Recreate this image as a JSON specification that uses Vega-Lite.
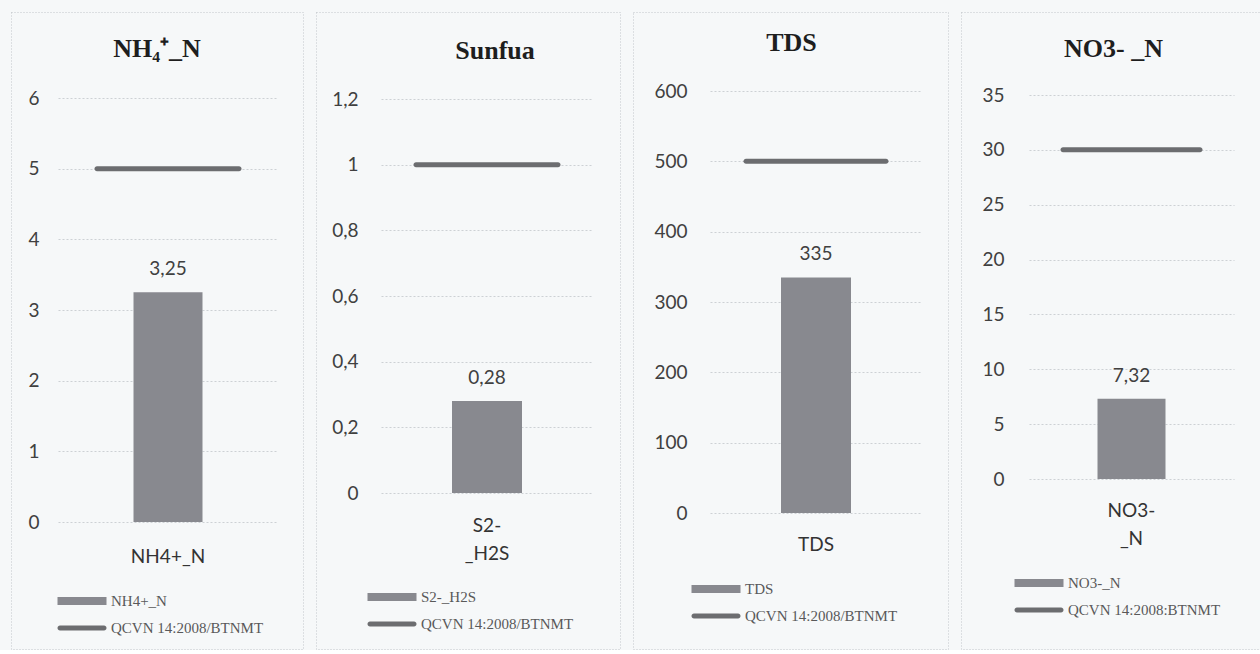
{
  "$schema": "https://vega.github.io/schema/vega-lite/v6.json",
  "background": "#f6f8f9",
  "padding": {"left": 10, "top": 11, "right": 0, "bottom": 0},
  "config": {
    "locale": {"number": {"decimal": ",", "thousands": ".", "grouping": [3], "currency": ["", " ₫"]}},
    "view": {"stroke": "#c3c7ca", "strokeDash": [1, 2], "strokeWidth": 1},
    "concat": {"spacing": 11},
    "title": {"font": "Liberation Serif", "fontSize": 26, "fontWeight": "bold", "color": "#1e1e1e", "anchor": "middle", "frame": "group"},
    "axisY": {"domain": false, "ticks": false, "labelPadding": 0, "grid": true, "gridColor": "#cdd1d4", "gridDash": [2, 2], "gridWidth": 1, "labelFont": "Lato", "labelFontSize": 19, "labelColor": "#404040", "title": null, "format": "~r"},
    "axisX": {"domain": false, "ticks": false, "grid": false, "labelAngle": 0, "labelFont": "Lato", "labelFontSize": 19, "labelColor": "#333333", "labelLineHeight": 28, "title": null},
    "legend": {"padding": 0, "title": null, "labelFont": "Liberation Serif", "labelFontSize": 15, "labelColor": "#595959", "labelOffset": 19, "rowPadding": 9, "symbolSize": 384, "symbolType": "M-2.5,-0.4H2.5V0.4H-2.5Z", "symbolStrokeWidth": 0},
    "text": {"font": "Lato", "fontSize": 19, "color": "#404040"}
  },
  "datasets": {
    "chi_tieu": [
      {"chart": "NH4", "param": "NH4+_N", "value": 3.25, "limit": 5, "standard": "QCVN 14:2008/BTNMT"},
      {"chart": "S", "param": "S2-_H2S", "value": 0.28, "limit": 1, "standard": "QCVN 14:2008/BTNMT"},
      {"chart": "TDS", "param": "TDS", "value": 335, "limit": 500, "standard": "QCVN 14:2008/BTNMT"},
      {"chart": "NO3", "param": "NO3-_N", "value": 7.32, "limit": 30, "standard": "QCVN 14:2008:BTNMT"}
    ]
  },
  "resolve": {"scale": {"x": "independent", "y": "independent", "color": "independent"}, "legend": {"color": "independent"}},
  "hconcat": [
    {
      "width": 292, "height": 637,
      "data": {"name": "chi_tieu"},
      "transform": [{"filter": "datum.chart == 'NH4'"}],
      "title": {"text": "NH₄⁺_N", "offset": -50},
      "encoding": {
        "x": {"field": "param", "type": "nominal", "scale": {"range": [47, 267]}, "axis": {"offset": -127, "labelPadding": 25}}
      },
      "layer": [
        {
          "mark": {"type": "bar", "size": 69},
          "encoding": {
            "y": {"field": "value", "type": "quantitative", "scale": {"domain": [0, 6], "range": [510, 86], "nice": false}, "axis": {"values": [0, 1, 2, 3, 4, 5, 6], "offset": -28}},
            "color": {"field": "param", "type": "nominal", "scale": {"domain": ["NH4+_N", "QCVN 14:2008/BTNMT"], "range": ["#88898f", "#6c6d70"]},
              "legend": {"orient": "none", "legendX": 61, "legendY": 579,
                "encode": {"symbols": {"update": {
                  "shape": {"signal": "indexof(datum.value, 'QCVN') === 0 ? 'M-2.25,-0.25H2.25A0.25,0.25 0 0 1 2.25,0.25H-2.25A0.25,0.25 0 0 1 -2.25,-0.25Z' : 'M-2.5,-0.4H2.5V0.4H-2.5Z'"},
                  "fill": {"signal": "indexof(datum.value, 'QCVN') === 0 ? '#6c6d70' : '#88898f'"},
                  "strokeWidth": {"value": 0}, "opacity": {"value": 1}}}}}}
          }
        },
        {
          "mark": {"type": "tick", "size": 147, "thickness": 5, "cornerRadius": 2.5, "orient": "horizontal", "opacity": 1},
          "encoding": {
            "y": {"field": "limit", "type": "quantitative"},
            "color": {"field": "standard", "type": "nominal"}
          }
        },
        {
          "mark": {"type": "text", "baseline": "alphabetic", "dy": -17},
          "encoding": {
            "y": {"field": "value", "type": "quantitative"},
            "text": {"field": "value", "type": "quantitative", "format": "~r"}
          }
        }
      ]
    },
    {
      "width": 304, "height": 637,
      "data": {"name": "chi_tieu"},
      "transform": [{"filter": "datum.chart == 'S'"}],
      "title": {"text": "Sunfua", "offset": -52, "dx": 27},
      "encoding": {
        "x": {"field": "param", "type": "nominal", "scale": {"range": [65, 277]}, "axis": {"offset": -156, "labelPadding": 23, "labelExpr": "['S2-', '_H2S']"}}
      },
      "layer": [
        {
          "mark": {"type": "bar", "size": 70},
          "encoding": {
            "y": {"field": "value", "type": "quantitative", "scale": {"domain": [0, 1.2], "range": [481, 87], "nice": false}, "axis": {"values": [0, 0.2, 0.4, 0.6, 0.8, 1, 1.2], "offset": -42}},
            "color": {"field": "param", "type": "nominal", "scale": {"domain": ["S2-_H2S", "QCVN 14:2008/BTNMT"], "range": ["#88898f", "#6c6d70"]},
              "legend": {"orient": "none", "legendX": 66, "legendY": 575,
                "encode": {"symbols": {"update": {
                  "shape": {"signal": "indexof(datum.value, 'QCVN') === 0 ? 'M-2.25,-0.25H2.25A0.25,0.25 0 0 1 2.25,0.25H-2.25A0.25,0.25 0 0 1 -2.25,-0.25Z' : 'M-2.5,-0.4H2.5V0.4H-2.5Z'"},
                  "fill": {"signal": "indexof(datum.value, 'QCVN') === 0 ? '#6c6d70' : '#88898f'"},
                  "strokeWidth": {"value": 0}, "opacity": {"value": 1}}}}}}
          }
        },
        {
          "mark": {"type": "tick", "size": 147, "thickness": 5, "cornerRadius": 2.5, "orient": "horizontal", "opacity": 1},
          "encoding": {
            "y": {"field": "limit", "type": "quantitative"},
            "color": {"field": "standard", "type": "nominal"}
          }
        },
        {
          "mark": {"type": "text", "baseline": "alphabetic", "dy": -17},
          "encoding": {
            "y": {"field": "value", "type": "quantitative"},
            "text": {"field": "value", "type": "quantitative", "format": "~r"}
          }
        }
      ]
    },
    {
      "width": 315, "height": 637,
      "data": {"name": "chi_tieu"},
      "transform": [{"filter": "datum.chart == 'TDS'"}],
      "title": {"text": "TDS", "offset": -44, "dx": 1},
      "encoding": {
        "x": {"field": "param", "type": "nominal", "scale": {"range": [77, 289]}, "axis": {"offset": -136, "labelPadding": 22}}
      },
      "layer": [
        {
          "mark": {"type": "bar", "size": 70},
          "encoding": {
            "y": {"field": "value", "type": "quantitative", "scale": {"domain": [0, 600], "range": [501, 79], "nice": false}, "axis": {"values": [0, 100, 200, 300, 400, 500, 600], "offset": -54}},
            "color": {"field": "param", "type": "nominal", "scale": {"domain": ["TDS", "QCVN 14:2008/BTNMT"], "range": ["#88898f", "#6c6d70"]},
              "legend": {"orient": "none", "legendX": 73, "legendY": 567,
                "encode": {"symbols": {"update": {
                  "shape": {"signal": "indexof(datum.value, 'QCVN') === 0 ? 'M-2.25,-0.25H2.25A0.25,0.25 0 0 1 2.25,0.25H-2.25A0.25,0.25 0 0 1 -2.25,-0.25Z' : 'M-2.5,-0.4H2.5V0.4H-2.5Z'"},
                  "fill": {"signal": "indexof(datum.value, 'QCVN') === 0 ? '#6c6d70' : '#88898f'"},
                  "strokeWidth": {"value": 0}, "opacity": {"value": 1}}}}}}
          }
        },
        {
          "mark": {"type": "tick", "size": 145, "thickness": 5, "cornerRadius": 2.5, "orient": "horizontal", "opacity": 1},
          "encoding": {
            "y": {"field": "limit", "type": "quantitative"},
            "color": {"field": "standard", "type": "nominal"}
          }
        },
        {
          "mark": {"type": "text", "baseline": "alphabetic", "dy": -17},
          "encoding": {
            "y": {"field": "value", "type": "quantitative"},
            "text": {"field": "value", "type": "quantitative", "format": "~r"}
          }
        }
      ]
    },
    {
      "width": 301, "height": 637,
      "data": {"name": "chi_tieu"},
      "transform": [{"filter": "datum.chart == 'NO3'"}],
      "title": {"text": "NO3- _N", "offset": -50, "dx": 2},
      "encoding": {
        "x": {"field": "param", "type": "nominal", "scale": {"range": [68, 273]}, "axis": {"offset": -170, "labelPadding": 22, "labelExpr": "['NO3-', '_N']"}}
      },
      "layer": [
        {
          "mark": {"type": "bar", "size": 68},
          "encoding": {
            "y": {"field": "value", "type": "quantitative", "scale": {"domain": [0, 35], "range": [467, 83], "nice": false}, "axis": {"values": [0, 5, 10, 15, 20, 25, 30, 35], "offset": -43}},
            "color": {"field": "param", "type": "nominal", "scale": {"domain": ["NO3-_N", "QCVN 14:2008:BTNMT"], "range": ["#88898f", "#6c6d70"]},
              "legend": {"orient": "none", "legendX": 68, "legendY": 561,
                "encode": {"symbols": {"update": {
                  "shape": {"signal": "indexof(datum.value, 'QCVN') === 0 ? 'M-2.25,-0.25H2.25A0.25,0.25 0 0 1 2.25,0.25H-2.25A0.25,0.25 0 0 1 -2.25,-0.25Z' : 'M-2.5,-0.4H2.5V0.4H-2.5Z'"},
                  "fill": {"signal": "indexof(datum.value, 'QCVN') === 0 ? '#6c6d70' : '#88898f'"},
                  "strokeWidth": {"value": 0}, "opacity": {"value": 1}}}}}}
          }
        },
        {
          "mark": {"type": "tick", "size": 142, "thickness": 5, "cornerRadius": 2.5, "orient": "horizontal", "opacity": 1},
          "encoding": {
            "y": {"field": "limit", "type": "quantitative"},
            "color": {"field": "standard", "type": "nominal"}
          }
        },
        {
          "mark": {"type": "text", "baseline": "alphabetic", "dy": -17},
          "encoding": {
            "y": {"field": "value", "type": "quantitative"},
            "text": {"field": "value", "type": "quantitative", "format": "~r"}
          }
        }
      ]
    }
  ]
}
